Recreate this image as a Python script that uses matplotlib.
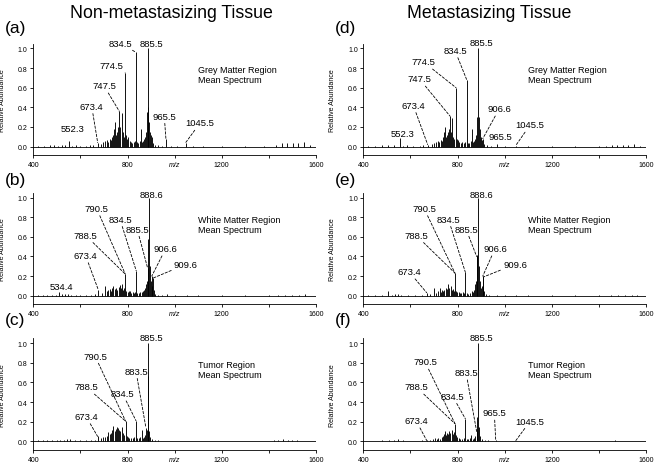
import matplotlib
matplotlib.use('Agg')
import matplotlib.pyplot as plt
import numpy as np

plt.rcParams['font.family'] = ['Liberation Sans', 'DejaVu Sans']

# ---- spectra: peak m/z and relative abundance ----
# (a) grey matter, non-metastasizing
mz_a = [420, 445, 470, 488, 505, 520, 535, 552.5, 566, 580, 600, 622, 640, 655,
        673.4, 688, 697, 704, 712, 718, 724, 730, 735, 740, 744, 747, 751, 756,
        760, 765, 770, 775, 779, 784, 790.5, 794, 798, 804, 809, 814, 820, 826,
        831, 836, 840, 846, 852, 857, 862, 866, 870, 875, 879, 882, 885.6, 888,
        891, 894, 898, 902, 907, 915, 930, 945, 963, 985, 1010, 1047, 1080,
        1120, 1200, 1300, 1380, 1430, 1454, 1478, 1501, 1525, 1549, 1574]
int_a = [.008, .01, .012, .02, .01, .015, .012, .06, .01, .012, .008, .01, .012, .015,
         .04, .03, .05, .06, .07, .05, .08, .07, .1, .12, .18, .25, .12, .15,
         .2, .36, .2, .34, .15, .1, .75, .12, .08, .1, .06, .05, .04, .05,
         .06, .96, .05, .04, .06, .18, .05, .06, .08, .1, .15, .35, 1.0, .4,
         .25, .15, .12, .1, .04, .02, .015, .01, .08, .008, .006, .04, .005,
         .004, .004, .005, .006, .02, .035, .04, .04, .035, .05, .012]

# (b) white matter, non-metastasizing
mz_b = [420, 440, 460, 480, 495, 510, 522, 535, 548, 560, 580, 600, 625, 645, 660,
        676, 690, 704, 712, 718, 725, 730, 735, 740, 745, 751, 756, 762, 768,
        772, 777, 782, 786, 790.6, 795, 800, 805, 810, 816, 822, 828, 832, 837,
        842, 848, 854, 860, 866, 870, 874, 878, 881, 885.6, 889, 892.6, 895,
        899, 903, 906, 909, 913, 918, 930, 945, 966, 1000, 1051, 1100, 1200,
        1300, 1400, 1440, 1470, 1500, 1530, 1555]
int_b = [.006, .008, .01, .01, .012, .04, .015, .02, .015, .012, .008, .008, .01, .012, .015,
         .06, .03, .1, .05, .06, .07, .05, .08, .1, .07, .08, .06, .09, .11,
         .08, .12, .06, .08, .22, .05, .04, .05, .05, .03, .04, .03, .04, .254,
         .03, .03, .04, .04, .05, .06, .08, .12, .15, .28, .58, 1.0, .3,
         .15, .2, .1, .18, .06, .02, .01, .008, .02, .005, .01, .004, .003,
         .003, .004, .006, .008, .01, .01, .015]

# (c) tumor, non-metastasizing
mz_c = [420, 440, 460, 480, 500, 515, 530, 545, 556, 575, 600, 625, 645, 660,
        673, 688, 697, 704, 712, 719, 726, 732, 736, 740, 745, 751, 756, 761,
        765, 770, 775, 780, 785, 792, 796, 802, 808, 815, 822, 828, 836, 842,
        850, 855, 860, 866, 870, 874, 878, 882, 885.6, 887, 890, 895, 905, 915,
        930, 960, 1000, 1050, 1100, 1200, 1300, 1400, 1420, 1440, 1460, 1480,
        1500, 1520]
int_c = [.008, .01, .012, .01, .015, .012, .015, .02, .02, .01, .008, .01, .012, .015,
         .05, .03, .04, .04, .05, .09, .07, .08, .12, .16, .1, .13, .15, .14,
         .12, .1, .15, .08, .06, .205, .05, .04, .03, .03, .03, .04, .21, .03,
         .03, .04, .11, .03, .04, .06, .14, .12, 1.0, .67, .1, .04, .02, .01,
         .008, .006, .005, .004, .004, .003, .004, .006, .01, .015, .02, .012,
         .01, .008]

# (d) grey matter, metastasizing
mz_d = [420, 450, 480, 505, 530, 556, 570, 584, 610, 640, 655, 673, 690, 700,
        708, 715, 722, 728, 734, 740, 744, 747, 751, 756, 760, 764, 768, 772,
        778, 782, 787, 793.5, 797, 803, 808, 814, 820, 826, 832, 839, 843, 850,
        856, 860, 865, 870, 875, 880, 884, 888, 891, 894, 898, 902, 907, 912,
        925, 940, 966, 1000, 1047, 1100, 1200, 1300, 1400, 1430, 1454, 1478,
        1501, 1525, 1549, 1574]
int_d = [.006, .01, .012, .015, .02, .09, .01, .02, .008, .01, .012, .02, .03, .04,
         .05, .06, .05, .07, .06, .1, .15, .2, .1, .12, .15, .18, .31, .15,
         .29, .1, .08, .6, .08, .07, .05, .04, .05, .04, .05, .68, .04, .04,
         .06, .18, .05, .06, .08, .12, .3, 1.0, .3, .18, .1, .07, .08, .03,
         .015, .01, .03, .006, .01, .004, .004, .004, .005, .01, .015, .02,
         .018, .02, .03, .008]

# (e) white matter, metastasizing
mz_e = [420, 450, 480, 506, 520, 535, 548, 560, 590, 620, 650, 669, 685, 700,
        710, 718, 725, 730, 735, 740, 744, 750, 755, 761, 765, 771, 776, 781,
        785, 789, 793, 798, 804, 810, 816, 822, 828, 833, 838, 845, 852, 860,
        866, 870, 874, 878, 881, 884, 888, 891, 895, 900, 904, 907, 909, 913,
        920, 935, 966, 1000, 1050, 1100, 1200, 1300, 1400, 1450, 1480, 1510,
        1540, 1560]
int_e = [.005, .008, .01, .045, .01, .015, .015, .01, .008, .006, .008, .03, .02, .08,
         .03, .05, .08, .04, .06, .05, .06, .08, .07, .12, .08, .1, .06, .07,
         .05, .23, .05, .04, .04, .03, .03, .04, .03, .24, .03, .02, .03, .05,
         .04, .06, .12, .15, .4, .42, 1.0, .3, .15, .08, .1, .2, .19, .05,
         .02, .01, .01, .005, .005, .003, .003, .003, .004, .005, .006, .006,
         .01, .005]

# (f) tumor, metastasizing
mz_f = [420, 450, 480, 510, 530, 549, 570, 600, 630, 650, 669, 685, 695, 704,
        712, 718, 725, 732, 738, 743, 747, 752, 757, 761, 765, 770, 775, 780,
        784, 789, 793, 798, 804, 810, 818, 826, 833, 838, 845, 852, 858, 864,
        870, 876, 881, 884, 888, 891, 895, 902, 915, 930, 962, 1000, 1047,
        1100, 1200, 1300, 1400, 1440, 1470, 1500, 1530]
int_f = [.005, .006, .008, .01, .01, .02, .008, .006, .006, .008, .008, .01, .02, .03,
         .02, .03, .025, .04, .05, .07, .1, .06, .08, .07, .1, .08, .12, .07,
         .09, .18, .06, .04, .03, .02, .02, .03, .23, .02, .02, .03, .06, .02,
         .03, .05, .1, .25, 1.0, .15, .05, .02, .01, .008, .008, .005, .006,
         .003, .003, .003, .004, .006, .008, .006, .005]

# ---- peak labels: text and the peak each one marks ----
lab_a = ['834.5', '885.5', '774.5', '747.5', '673.4', '552.3', '965.5', '1045.5']
tgt_a = [836, 885.6, 790.5, 765, 673.4, 552.5, 963, 1047]
lab_b = ['888.6', '790.5', '834.5', '885.5', '788.5', '673.4', '906.6', '909.6', '534.4']
tgt_b = [892.6, 790.6, 837, 885.6, 790.6, 676, 903, 909, 510]
lab_c = ['885.5', '790.5', '883.5', '788.5', '834.5', '673.4']
tgt_c = [885.6, 792, 878, 792, 836, 673]
lab_d = ['885.5', '834.5', '774.5', '747.5', '673.4', '552.3', '906.6', '965.5', '1045.5']
tgt_d = [888, 839, 793.5, 768, 673, 556, 907, 966, 1047]
lab_e = ['888.6', '790.5', '834.5', '885.5', '788.5', '906.6', '909.6', '673.4']
tgt_e = [888, 789, 833, 881, 789, 907, 909, 669]
lab_f = ['885.5', '790.5', '883.5', '788.5', '834.5', '673.4', '965.5', '1045.5']
tgt_f = [888, 789, 881, 789, 833, 669, 962, 1047]

# label placement (m/z, abundance) and whether a dashed leader is drawn
pos_a = [(771, 1.056), (902, 1.05), (733, .825), (700, .62), (648, .41), (567, .186), (956, .31), (1108, .24)]
lead_a = [1, 0, 1, 1, 1, 0, 1, 1]
pos_b = [(902, 1.03), (669, .89), (768, .78), (841, .68), (622, .616), (622, .41), (962, .48), (1048, .32), (518, .09)]
lead_b = [0, 1, 1, 1, 1, 1, 1, 1, 0]
pos_c = [(902, 1.06), (662, .87), (836, .715), (624, .555), (779, .486), (624, .253)]
lead_c = [0, 1, 1, 1, 1, 1]
pos_d = [(902, 1.058), (789, .98), (655, .864), (638, .69), (612, .42), (567, .136), (977, .385), (980, .10), (1108, .22)]
lead_d = [0, 1, 1, 1, 1, 0, 1, 0, 1]
pos_e = [(902, 1.03), (658, .89), (761, .78), (836, .68), (624, .616), (959, .48), (1044, .32), (594, .245)]
lead_e = [0, 1, 1, 1, 1, 1, 1, 1]
pos_f = [(902, 1.06), (662, .81), (836, .70), (624, .555), (779, .46), (624, .21), (956, .29), (1108, .205)]
lead_f = [0, 1, 1, 1, 1, 1, 1, 1]

regions = ['Grey Matter Region\nMean Spectrum', 'White Matter Region\nMean Spectrum',
           'Tumor Region\nMean Spectrum']
letters = [['(a)', '(b)', '(c)'], ['(d)', '(e)', '(f)']]
col_titles = ['Non-metastasizing Tissue', 'Metastasizing Tissue']
xticks = [400, 600, 800, 1000, 1200, 1400, 1600]
xticklabels = ['400', '', '800', 'm/z', '1200', '', '1600']
yticks = [0.0, 0.2, 0.4, 0.6, 0.8, 1.0]

panels = [[(mz_a, int_a, lab_a, tgt_a, pos_a, lead_a),
           (mz_b, int_b, lab_b, tgt_b, pos_b, lead_b),
           (mz_c, int_c, lab_c, tgt_c, pos_c, lead_c)],
          [(mz_d, int_d, lab_d, tgt_d, pos_d, lead_d),
           (mz_e, int_e, lab_e, tgt_e, pos_e, lead_e),
           (mz_f, int_f, lab_f, tgt_f, pos_f, lead_f)]]


def draw_panel(ax, mz, inten, labs, tgts, pos, lead, region):
    mz = np.array(mz)
    inten = np.array(inten)
    ax.axhline(0, color='black', lw=0.6, zorder=1)
    ax.vlines(mz, 0, inten, color='black', lw=0.65, zorder=2)
    for t, m, p, l in zip(labs, tgts, pos, lead):
        h = inten[np.argmin(np.abs(mz - m))]
        if l:
            # dashed leader from the label to the top of its peak
            ax.annotate(t, xy=(m, h), xytext=p, ha='center', va='center', fontsize=6.8,
                        arrowprops=dict(arrowstyle='-', color='black', lw=0.6,
                                        linestyle=(0, (3, 2)), shrinkA=0, shrinkB=0))
        else:
            ax.text(p[0], p[1], t, ha='center', va='center', fontsize=6.8)
    ax.text(1100, 0.73, region, ha='left', va='center', fontsize=6.5, linespacing=1.15)

    ax.set_xlim(400, 1600)
    ax.set_ylim(-0.09, 1.05)
    ax.set_xticks(xticks)
    ax.set_xticklabels(xticklabels)
    ax.get_xticklabels()[3].set_fontstyle('italic')
    ax.set_yticks(yticks)
    ax.set_yticklabels(['%.1f' % v for v in yticks])
    ax.tick_params(direction='out', length=2.5, width=0.6, labelsize=5, pad=1.5)
    for s in ['top', 'right']:
        ax.spines[s].set_visible(False)
    for s in ['left', 'bottom']:
        ax.spines[s].set_linewidth(0.6)
    ax.set_ylabel('Relative Abundance', fontsize=5)
    ax.yaxis.set_label_coords(-0.095, 0.5)


fig = plt.figure(figsize=(6.55, 4.64), dpi=100)
lefts = [0.0508, 0.5547]
bottoms = [0.6631, 0.3416, 0.0278]
letter_y = [29, 180, 321]
for ci in range(2):
    for ri in range(3):
        ax = fig.add_axes([lefts[ci], bottoms[ri], 0.4316, 0.2408])
        draw_panel(ax, *panels[ci][ri], regions[ri])
        fig.text(lefts[ci] - 0.044, 1 - letter_y[ri] / 464, letters[ci][ri],
                 ha='left', va='center', fontsize=12.5)

fig.text(171 / 655, 1 - 14 / 464, col_titles[0], ha='center', va='center', fontsize=12.8)
fig.text(489 / 655, 1 - 14 / 464, col_titles[1], ha='center', va='center', fontsize=12.8)

fig.savefig('out.png', dpi=100)
